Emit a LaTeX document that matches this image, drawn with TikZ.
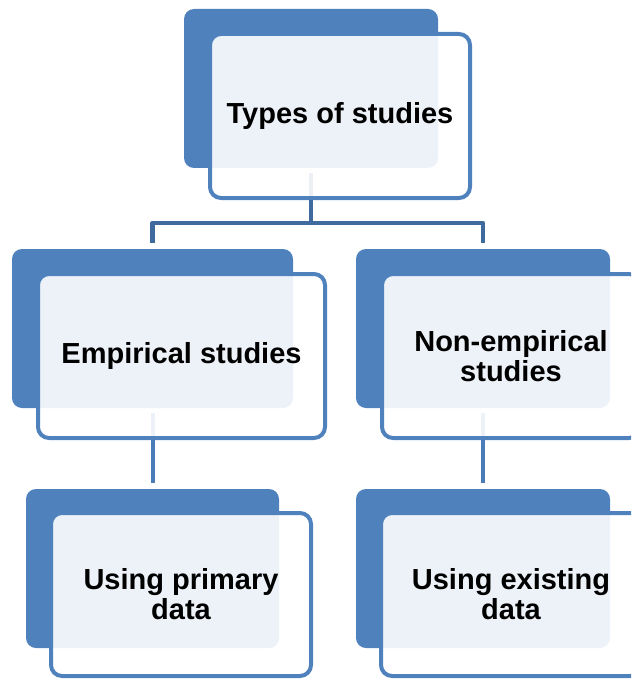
\documentclass[tikz,border=0pt]{standalone}
\usepackage{fontspec}
\setmainfont{Liberation Sans}
\usetikzlibrary{calc}
\definecolor{boxblue}{HTML}{4F81BD}
\definecolor{linkdark}{HTML}{3F6A9D}
\definecolor{linkmid}{HTML}{4A7CB9}
\pgfdeclarelayer{bg}
\pgfsetlayers{bg,main}
\tikzset{
  back/.style={fill=boxblue, draw=none, rounded corners=10pt,
    inner sep=0pt, outer sep=0pt},
  front/.style={draw=boxblue, line width=4pt, fill=white, fill opacity=0.9,
    text opacity=1, rounded corners=11pt, inner sep=0pt, outer sep=0pt,
    align=center, font=\fontsize{29}{30}\selectfont\bfseries},
  link/.style={draw=linkdark, line width=4.5pt, line join=round},
  sublink/.style={draw=linkmid, line width=4pt}
}
\begin{document}
\begin{tikzpicture}[x=1pt,y=-1pt]
\path[use as bounding box] (0,0) rectangle (631,679);
\clip (0,0) rectangle (631,679);

% top level
\node[back, minimum width=254pt, minimum height=159pt] (topb) at (311,88.5) {};
\node[front, minimum width=260pt, minimum height=164pt] (top) at (340,116) {Types of studies};

% second level
\node[back, minimum width=281pt, minimum height=159pt] (empb) at (152.5,328.5) {};
\node[front, minimum width=287pt, minimum height=164pt] (emp) at (181.5,356) {Empirical studies};
\node[back, minimum width=254pt, minimum height=159pt] (nonb) at (483,328.5) {};
\node[front, minimum width=258pt, minimum height=164pt] (non) at (511,356) {Non-empirical\\studies};

% third level
\node[back, minimum width=253pt, minimum height=159pt] (prib) at (152.5,568.5) {};
\node[front, minimum width=260pt, minimum height=163pt] (pri) at (181,594.5) {Using primary\\data};
\node[back, minimum width=254pt, minimum height=159pt] (exib) at (483,568.5) {};
\node[front, minimum width=260pt, minimum height=163pt] (exi) at (511,594.5) {Using existing\\data};

% connectors behind the boxes
\coordinate (split) at ($(topb.south)+(0,55)$);
\begin{pgfonlayer}{bg}
  \draw[link] ($(topb.south)+(0,5)$) -- (split);
  \draw[link] ($(empb.north)+(0,-6)$) |- (split) -| ($(nonb.north)+(0,-6)$);
  \draw[sublink] ($(empb.south)+(0,5)$) -- ($(prib.north)+(0,-6)$);
  \draw[sublink] ($(nonb.south)+(0,5)$) -- ($(exib.north)+(0,-6)$);
\end{pgfonlayer}
\end{tikzpicture}
\end{document}
